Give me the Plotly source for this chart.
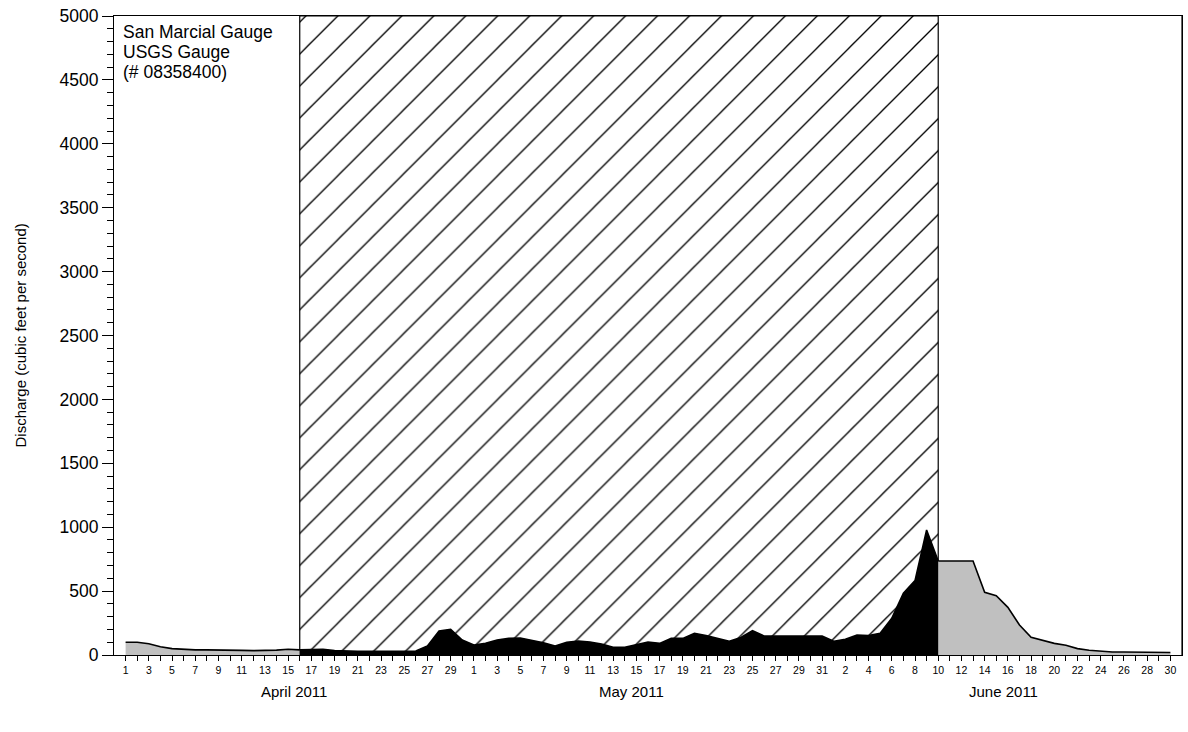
import pandas as pd
import plotly.graph_objects as go

# ---- data ----
dates = pd.date_range("2011-04-01", "2011-06-30", freq="D")
discharge = [
    # April 1-30
    100, 100, 88, 65, 50, 43, 40, 40, 40, 40, 36, 34, 34, 38, 45,
    40, 45, 45, 35, 30, 28, 28, 28, 28, 27, 31, 70, 188, 201, 117,
    # May 1-31
    78, 91, 117, 130, 133, 117, 96, 70, 99, 109, 102, 86, 60, 60, 81,
    102, 91, 130, 130, 170, 152, 130, 107, 137, 190, 149, 149, 149, 149, 149, 149,
    # June 1-30
    107, 123, 156, 153, 170, 287, 483, 582, 978, 735,
    735, 735, 735, 490, 464, 373, 235, 138, 117, 91,
    76, 50, 37, 29, 23, 23, 23, 23, 23, 20,
]
period_start = pd.Timestamp("2011-04-16")
period_end = pd.Timestamp("2011-06-10")
month_labels = ["April 2011", "May 2011", "June 2011"]
month_label_pos = ["2011-04-15 12:00", "2011-05-14 14:00", "2011-06-15 14:00"]
gauge_lines = ["San Marcial Gauge", "USGS Gauge", "(# 08358400)"]
y_title = "Discharge (cubic feet per second)"

s = pd.Series(discharge, index=dates)
before = s[s.index <= period_start]
during = s[(s.index >= period_start) & (s.index <= period_end)]
after = s[s.index >= period_end]

font = "Liberation Sans, Arial, sans-serif"
fig = go.Figure()

# hatched period
fig.add_trace(go.Scatter(
    x=[period_start, period_start, period_end, period_end, period_start],
    y=[0, 5000, 5000, 0, 0],
    mode="lines", fill="toself", fillcolor="white",
    fillpattern=dict(shape="/", size=22.6, solidity=0.06, fgcolor="black",
                     fgopacity=1, bgcolor="white"),
    line=dict(color="black", width=1.2), hoverinfo="skip", showlegend=False,
))

for part, color in [(before, "#c0c0c0"), (during, "black"), (after, "#c0c0c0")]:
    fig.add_trace(go.Scatter(
        x=part.index, y=part.values, mode="lines", fill="tozeroy",
        fillcolor=color, line=dict(color="black", width=1.6), showlegend=False,
    ))

tickvals = list(dates)
ticktext = [str(d.day) if i % 2 == 0 else "" for i, d in enumerate(dates)]

W, H = 1188, 732
L, R, T, B = 114, 6, 16, 77
PW, PH = W - L - R, H - T - B

fig.update_layout(
    width=W, height=H,
    margin=dict(l=L, r=R, t=T, b=B),
    plot_bgcolor="white", paper_bgcolor="white",
    font=dict(family=font, color="black"),
    xaxis=dict(
        range=["2011-03-31", "2011-07-01"], tickvals=tickvals, ticktext=ticktext,
        ticks="outside", ticklen=5, tickcolor="black", tickwidth=1,
        tickfont=dict(size=10.5), tickangle=0,
        showline=True, linecolor="black", linewidth=1, mirror=True,
        showgrid=False, zeroline=False,
    ),
    yaxis=dict(
        range=[0, 5000], dtick=500, tick0=0,
        ticks="outside", ticklen=11, tickcolor="black", tickwidth=1,
        tickfont=dict(size=17.5), ticklabeloverflow="allow",
        minor=dict(dtick=100, ticks="outside", ticklen=6, tickcolor="black", showgrid=False),
        showline=True, linecolor="black", linewidth=1, mirror=True,
        showgrid=False, zeroline=False,
    ),
    shapes=[dict(type="line", xref="paper", yref="paper", x0=1, x1=1, y0=0, y1=1,
                 line=dict(color="black", width=1.2), layer="above")],
)

for i, line in enumerate(gauge_lines):
    fig.add_annotation(text=line, xref="paper", yref="paper", x=7 / PW,
                       y=1 - (16 + 20 * i) / PH,
                       xanchor="left", yanchor="middle", align="left", showarrow=False,
                       font=dict(size=17.5))
fig.add_annotation(text=y_title, xref="paper", yref="paper", x=(20 - L) / PW, y=0.5,
                   textangle=-90, xanchor="center", yanchor="middle", showarrow=False,
                   font=dict(size=15))
for lab, pos in zip(month_labels, month_label_pos):
    fig.add_annotation(text=lab, xref="x", yref="paper", x=pos, y=-36 / PH,
                       xanchor="center", yanchor="middle", showarrow=False,
                       font=dict(size=15))

fig.write_html("out.html", config={"displayModeBar": False},
               post_script="document.body.style.margin='0';document.body.style.overflow='hidden';")
